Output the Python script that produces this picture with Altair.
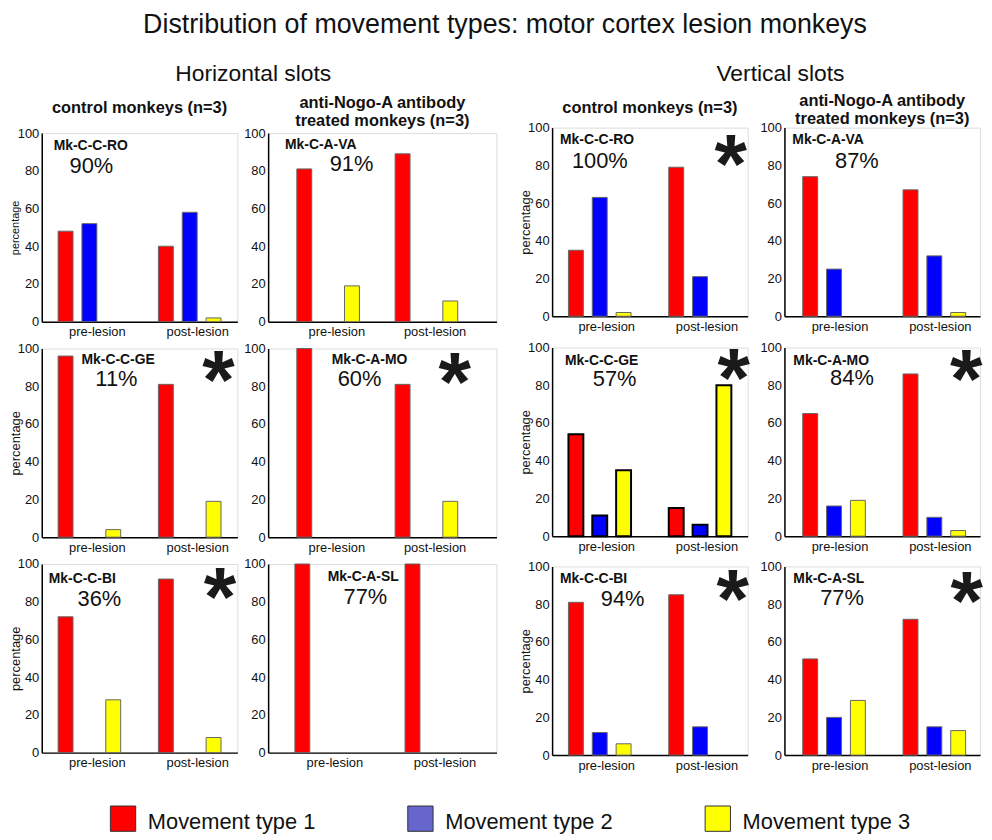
import altair as alt
import pandas as pd

FONT = "Liberation Sans, Arial, Helvetica, sans-serif"
INK = "#111111"

# ---------------- data ----------------
movement_types = ["Movement type 1", "Movement type 2", "Movement type 3"]
periods = ["pre-lesion", "post-lesion"]
bar_colors = ["#ff0000", "#0000ff", "#ffff00"]
legend_colors = ["#ff0000", "#6666cc", "#ffff00"]

main_title = "Distribution of movement types: motor cortex lesion monkeys"
slot_titles = ["Horizontal slots", "Vertical slots"]
group_titles = [["control monkeys (n=3)"], ["anti-Nogo-A antibody", "treated monkeys (n=3)"]]

# 12 panels, row by row; columns: H control, H anti-Nogo-A, V control, V anti-Nogo-A
monkeys = ["Mk-C-C-RO", "Mk-C-A-VA", "Mk-C-C-RO", "Mk-C-A-VA",
           "Mk-C-C-GE", "Mk-C-A-MO", "Mk-C-C-GE", "Mk-C-A-MO",
           "Mk-C-C-BI", "Mk-C-A-SL", "Mk-C-C-BI", "Mk-C-A-SL"]
percent_labels = ["90%", "91%", "100%", "87%",
                  "11%", "60%", "57%", "84%",
                  "36%", "77%", "94%", "77%"]
significant = [False, False, True, False,
               True, True, True, True,
               True, False, True, True]
type1_pre = [48, 81, 35, 74, 96, 100, 54, 65, 72, 100, 81, 51]
type2_pre = [52, 0, 63, 25, 0, 0, 11, 16, 0, 0, 12, 20]
type3_pre = [0, 19, 2, 0, 4, 0, 35, 19, 28, 0, 6, 29]
type1_post = [40, 89, 79, 67, 81, 81, 15, 86, 92, 100, 85, 72]
type2_post = [58, 0, 21, 32, 0, 0, 6, 10, 0, 0, 15, 15]
type3_post = [2, 11, 0, 2, 19, 19, 80, 3, 8, 0, 0, 13]
y_ticks = [0, 20, 40, 60, 80, 100]

# ---------------- styling / layout ----------------
COL_W = [197, 230, 197, 197]
PANEL_H = 190
STD = (0.376, 0.163, 0.5)
VANTI = (0.376, 0.163, 0.56)
HANTI = (0.389, 0.356, 0.41)
HANTI3 = (0.455, 0.264, 0.46)
XS = [STD, HANTI, STD, VANTI, STD, HANTI, STD, VANTI, STD, HANTI3, STD, VANTI]
LABEL_OFFSET = [8, 10, 7, 6]
NAME_POS = [(12, 17), (17, 16), (8, 17), (8, 17),
            (40, 16), (64, 16), (13, 18), (9, 18),
            (7, 19), (60, 17), (8, 17), (9, 17)]
PCT_POS = [(28, 40), (62, 38), (20, 41), (51, 41),
           (54, 38), (70, 38), (41, 39), (46, 38),
           (36, 42), (76, 40), (49, 40), (36, 39)]
STAR_POS = [None, None, (180, 25), None,
            (178, 20.5), (188, 22), (183, 19), (183, 20.5),
            (179.5, 22), None, (182, 21.5), (183.5, 23.5)]
STAR_SIZE = 84
STAR_DROP = 40.5
TITLE_OFFSET = [10.5, -2.5, 5.5, -5.5]
ROW_SPACING = [31, 37]
VSPACE = [2, 5.5]
HEADER_H = [29, 21.5]
HEADER_BASE = 18
HEADER_X = [213, 230]


def panel(i):
    row, col = divmod(i, 4)
    pre = [type1_pre[i], type2_pre[i], type3_pre[i]]
    post = [type1_post[i], type2_post[i], type3_post[i]]
    recs = [dict(period=p, mtype=t, value=v)
            for p, vals in zip(periods, [pre, post])
            for t, v in zip(movement_types, vals) if v > 0]
    df = pd.DataFrame(recs)
    pi, po, al = XS[i]
    common = dict(labelFontSize=13, ticks=False, domainColor="#000000",
                  domainWidth=1.5, labelColor=INK, grid=False, labelFont=FONT)
    if col in (0, 2):
        tfs = 11 if i == 0 else 13
        y_axis = alt.Axis(values=y_ticks, title="percentage", titleFontSize=tfs,
                          titleFontWeight="normal", titleColor=INK, titleFont=FONT,
                          titlePadding=-5 + (13 - tfs), labelPadding=3, **common)
    else:
        y_axis = alt.Axis(values=y_ticks, title=None, labelPadding=3, **common)
    x_axis = alt.Axis(title=None, labelAngle=0, labelPadding=4,
                      labelOffset=LABEL_OFFSET[col], **common)
    stroke, sw = ("#000000", 2) if i == 6 else ("#666666", 1)
    bars = alt.Chart(df).mark_bar(stroke=stroke, strokeWidth=sw).encode(
        x=alt.X("period:N", sort=periods,
                scale=alt.Scale(domain=periods, paddingInner=pi, paddingOuter=po, align=al),
                axis=x_axis),
        xOffset=alt.XOffset("mtype:N", scale=alt.Scale(domain=movement_types,
                                                       paddingInner=0.375, paddingOuter=0)),
        y=alt.Y("value:Q", scale=alt.Scale(domain=[0, 100], nice=False), axis=y_axis),
        color=alt.Color("mtype:N", scale=alt.Scale(domain=movement_types, range=bar_colors),
                        legend=None),
    )
    info = pd.DataFrame({"name": [monkeys[i]], "pct": [percent_labels[i]],
                         "star": ["*" if significant[i] else ""]})
    nx, ny = NAME_POS[i]
    name = alt.Chart(info).mark_text(align="left", baseline="alphabetic", font=FONT,
                                     fontSize=14, fontWeight="bold", color=INK).encode(
        x=alt.value(nx), y=alt.value(ny), text="name:N")
    px, py = PCT_POS[i]
    pct = alt.Chart(info).mark_text(align="left", baseline="alphabetic", font=FONT,
                                    fontSize=22, color=INK).encode(
        x=alt.value(px), y=alt.value(py), text="pct:N")
    layers = [bars, name, pct]
    if significant[i]:
        sx, sy = STAR_POS[i]
        star = alt.Chart(info).mark_text(align="center", baseline="alphabetic", font=FONT,
                                         fontSize=STAR_SIZE, fontWeight="bold",
                                         color="#1a1a1a").encode(
            x=alt.value(sx), y=alt.value(sy + STAR_DROP), text="star:N")
        layers.append(star)
    ch = alt.layer(*layers).properties(width=COL_W[col], height=PANEL_H)
    if row == 0:
        k = col % 2
        ch = ch.properties(title=alt.TitleParams(
            text=group_titles[k], font=FONT, fontSize=16.5, fontWeight="bold", color=INK,
            anchor="middle", frame="group", lineHeight=18, offset=TITLE_OFFSET[col]))
    return ch


panels = [panel(i) for i in range(12)]


def slot_group(g):
    c0 = 2 * g
    row_w = COL_W[c0] + ROW_SPACING[g] + COL_W[c0 + 1]
    hdr_df = pd.DataFrame({"label": [slot_titles[g]]})
    header = alt.Chart(hdr_df).mark_text(align="center", baseline="alphabetic", font=FONT,
                                         fontSize=23, color=INK).encode(
        x=alt.value(HEADER_X[g]), y=alt.value(HEADER_BASE), text="label:N").properties(
        width=row_w, height=HEADER_H[g], view=alt.ViewBackground(strokeOpacity=0))
    rows = [alt.hconcat(panels[r * 4 + c0], panels[r * 4 + c0 + 1],
                        spacing=ROW_SPACING[g], bounds="flush") for r in range(3)]
    return alt.vconcat(header, *rows, spacing=VSPACE[g])


block = alt.hconcat(slot_group(0), slot_group(1), spacing=21)

leg_df = pd.DataFrame({"mtype": movement_types, "swatch": legend_colors})
lx = alt.X("mtype:N", sort=movement_types,
           scale=alt.Scale(type="point", domain=movement_types, padding=0.5025, align=0.272),
           axis=None)
sq = alt.Chart(leg_df).mark_square(size=650, opacity=1, stroke="#333333", strokeWidth=1).encode(
    x=lx, fill=alt.Fill("swatch:N", scale=None))
tx = alt.Chart(leg_df).mark_text(align="left", baseline="alphabetic", dx=25, dy=10,
                                 fontSize=22, font=FONT, color=INK).encode(x=lx, text="mtype:N")
legend = alt.layer(sq, tx).properties(width=900, height=25,
                                      view=alt.ViewBackground(strokeOpacity=0))

chart = alt.vconcat(block, legend, spacing=31, title=alt.TitleParams(
    main_title, font=FONT, fontSize=27, fontWeight="normal", color=INK,
    anchor="middle", offset=25, dx=9)).properties(padding=0).configure_view(
    stroke="#999999", strokeWidth=1).configure(font=FONT)

chart.save("out.html", embed_options={"renderer": "svg", "actions": False})
